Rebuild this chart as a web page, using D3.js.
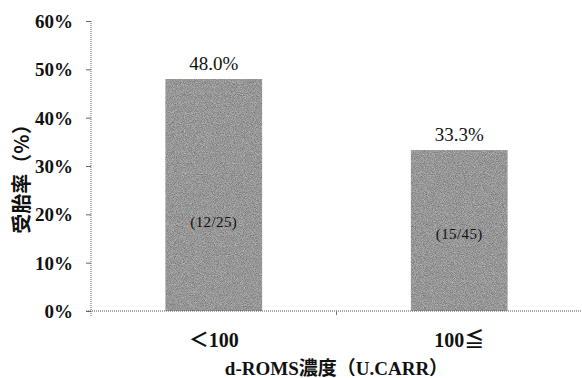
<!DOCTYPE html>
<html>
<head>
<meta charset="utf-8">
<script src="https://cdn.jsdelivr.net/npm/d3@7/dist/d3.min.js"></script>
<style>
  html, body { margin: 0; padding: 0; background: #fff; }
  svg { display: block; }
</style>
</head>
<body>
<svg id="chart" width="582" height="378"></svg>
<script>
// Conception rate by d-ROMS concentration group
const categories = ["＜100", "100≦"];
const rates = [48.0, 33.3];             // percent
const counts = ["(12/25)", "(15/45)"];  // pregnancies / cases
const yTicks = [0, 10, 20, 30, 40, 50, 60];

const serif = "'Liberation Serif', 'Times New Roman', serif";
const cjk = "'Noto Sans CJK JP', 'Noto Sans CJK SC', sans-serif";

const svg = d3.select("#chart");
const plotLeft = 91, plotRight = 582, plotTop = 21, plotBottom = 311;

const x = d3.scaleBand().domain(categories).range([plotLeft, plotRight])
  .paddingInner(0.606).paddingOuter(0.303);
const xGroup = d3.scaleBand().domain(categories).range([plotLeft, plotRight]);
const y = d3.scaleLinear().domain([0, 60]).range([plotBottom, plotTop]);

// grainy gray fill for the bars
const defs = svg.append("defs");
const f = defs.append("filter").attr("id", "grain")
  .attr("color-interpolation-filters", "sRGB")
  .attr("x", 0).attr("y", 0).attr("width", 1).attr("height", 1);
f.append("feTurbulence").attr("type", "fractalNoise")
  .attr("baseFrequency", 1.1).attr("numOctaves", 2).attr("seed", 7).attr("result", "n");
f.append("feColorMatrix").attr("in", "n").attr("type", "matrix")
  .attr("values", "0.42 0 0 0 0.38  0.42 0 0 0 0.38  0.42 0 0 0 0.38  0 0 0 0 1")
  .attr("result", "g");
f.append("feComposite").attr("in", "g").attr("in2", "SourceGraphic").attr("operator", "in");

// bars
svg.selectAll("rect.bar").data(categories).join("rect")
  .attr("class", "bar")
  .attr("x", d => x(d))
  .attr("width", x.bandwidth())
  .attr("y", (d, i) => y(rates[i]))
  .attr("height", (d, i) => y(0) - y(rates[i]))
  .attr("fill", "#8c8c8c")
  .attr("filter", "url(#grain)");

// y axis
const yAxis = d3.axisLeft(y).tickValues(yTicks).tickFormat(d => d + "%")
  .tickSize(5).tickPadding(13);
const gy = svg.append("g").attr("transform", `translate(${plotLeft},0)`).call(yAxis);
gy.select(".domain").attr("stroke", "#666").attr("stroke-dasharray", "1,1")
  .attr("d", `M0,${plotTop}V${plotBottom + 6}`);
gy.selectAll(".tick line").attr("stroke", "#666");
gy.selectAll(".tick text")
  .attr("font-family", serif).attr("font-weight", "bold")
  .attr("font-size", 19).attr("fill", "#111").attr("dy", "0.34em");

// x axis
const gx = svg.append("g").attr("transform", `translate(0,${plotBottom})`);
gx.append("line").attr("x1", plotLeft - 5).attr("x2", plotRight).attr("y1", 0).attr("y2", 0)
  .attr("stroke", "#555").attr("stroke-dasharray", "1,1");
gx.selectAll("line.sep").data(categories.slice(1)).join("line")
  .attr("class", "sep")
  .attr("x1", d => xGroup(d)).attr("x2", d => xGroup(d))
  .attr("y1", 0).attr("y2", 4).attr("stroke", "#777");
gx.selectAll("text.cat").data(categories).join("text")
  .attr("class", "cat")
  .attr("x", d => x(d) + x.bandwidth() / 2)
  .attr("y", 36)
  .attr("text-anchor", "middle")
  .attr("font-family", `'Liberation Serif', ${cjk}`).attr("font-weight", "bold")
  .attr("font-size", 20).attr("fill", "#111")
  .text(d => d);

// value labels above bars
svg.selectAll("text.val").data(categories).join("text")
  .attr("class", "val")
  .attr("x", d => x(d) + x.bandwidth() / 2)
  .attr("y", (d, i) => y(rates[i]) - 9)
  .attr("text-anchor", "middle")
  .attr("font-family", serif).attr("font-size", 19).attr("fill", "#111")
  .text((d, i) => rates[i].toFixed(1) + "%");

// count labels inside bars
const countBaseline = [227, 239];
svg.selectAll("text.cnt").data(categories).join("text")
  .attr("class", "cnt")
  .attr("x", d => x(d) + x.bandwidth() / 2)
  .attr("y", (d, i) => countBaseline[i])
  .attr("text-anchor", "middle")
  .attr("font-family", serif).attr("font-size", 15)
  .attr("letter-spacing", "0.4px").attr("fill", "#111")
  .text((d, i) => counts[i]);

// axis titles
svg.append("text")
  .attr("x", (plotLeft + plotRight) / 2).attr("y", 375)
  .attr("text-anchor", "middle")
  .attr("font-family", `'Liberation Serif', ${cjk}`)
  .attr("font-weight", "bold").attr("font-size", 19).attr("fill", "#111")
  .text("d-ROMS濃度（U.CARR）");

svg.append("text")
  .attr("transform", "translate(29,174) rotate(-90)")
  .attr("text-anchor", "middle")
  .attr("font-family", cjk).attr("font-weight", "bold")
  .attr("font-size", 20).attr("fill", "#111")
  .text("受胎率（%）");
</script>
</body>
</html>
